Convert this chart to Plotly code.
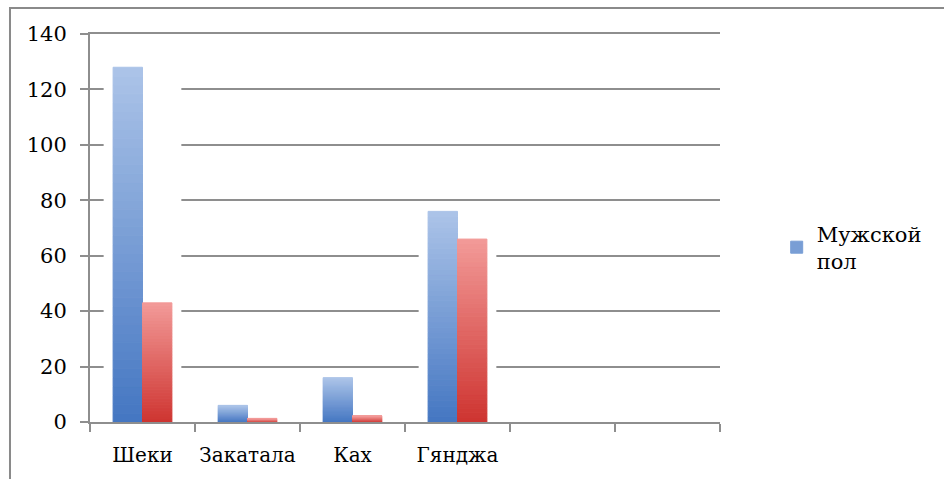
import plotly.graph_objects as go

# Category labels (the last two slots are empty in the chart)
CATEGORIES = ["Шеки", "Закатала", "Ках", "Гянджа", " ", "  "]
MALE = [128, 6, 16, 76, None, None]
FEMALE = [43, 1.3, 2.2, 66, None, None]
SERIES_NAMES = ["Мужской<br>пол", "Женский<br>пол"]
Y_TICKS = [0, 20, 40, 60, 80, 100, 120, 140]

FONT = "DejaVu Serif"
GRID = "#8e8e8e"
BAR_W = 0.28
SLICES = 40
GLOW_PAD = 2.2  # extra height of the soft glow above each bar group (axis units)

BLUE_TOP, BLUE_BOT = (172, 196, 232), (68, 118, 194)
RED_TOP, RED_BOT = (242, 154, 152), (206, 52, 48)


def mix(c1, c2, t):
    return "rgb(%d,%d,%d)" % tuple(round(a + (b - a) * t) for a, b in zip(c1, c2))


fig = go.Figure()

# white glow behind each bar group, interrupting the gridlines
glow = [max(m, f) + GLOW_PAD if m is not None else None for m, f in zip(MALE, FEMALE)]
fig.add_trace(go.Bar(
    x=CATEGORIES, y=glow, offset=-0.37, width=0.74,
    marker=dict(color="white", line=dict(width=0)),
    showlegend=False, hoverinfo="skip",
))


def add_gradient_series(values, top, bot, offset, name, legend):
    # vertical gradient: each bar is built from thin stacked slices
    for i in range(SLICES):
        t = (i + 0.5) / SLICES  # 0 at bottom, 1 at top
        col = mix(bot, top, t)
        fig.add_trace(go.Bar(
            x=CATEGORIES,
            base=[v * i / SLICES if v is not None else None for v in values],
            y=[v / SLICES if v is not None else None for v in values],
            offset=offset, width=BAR_W,
            marker=dict(color=col, line=dict(color=col, width=1)),
            name=name, legendgroup=name,
            showlegend=legend and i == SLICES // 2,
            hoverinfo="skip",
        ))


add_gradient_series(MALE, BLUE_TOP, BLUE_BOT, -BAR_W, SERIES_NAMES[0], True)
add_gradient_series(FEMALE, RED_TOP, RED_BOT, 0, SERIES_NAMES[1], False)

fig.update_layout(
    width=944, height=479,
    margin=dict(l=90, r=224, t=34, b=57, autoexpand=False),
    paper_bgcolor="white", plot_bgcolor="white",
    barmode="overlay",
    font=dict(family=FONT, size=20, color="black"),
    showlegend=True,
    legend=dict(
        x=1.09, xanchor="left", y=0.45, yanchor="middle",
        font=dict(family=FONT, size=21, color="black"),
        bgcolor="rgba(0,0,0,0)", itemwidth=30, tracegroupgap=0,
    ),
    xaxis=dict(
        type="category", categoryorder="array", categoryarray=CATEGORIES,
        range=[-0.5, len(CATEGORIES) - 0.5],
        tickson="boundaries", ticks="outside", ticklen=8, tickwidth=2,
        tickcolor=GRID, showline=True, linecolor=GRID, linewidth=2,
        mirror=True,
        showgrid=False, ticklabelstandoff=14, tickangle=0, automargin=False,
        tickfont=dict(family=FONT, size=20, color="black"),
    ),
    yaxis=dict(
        range=[0, 140], tickvals=Y_TICKS, automargin=False,
        ticks="outside", ticklen=8, tickwidth=2, tickcolor=GRID,
        showline=True, linecolor=GRID, linewidth=2,
        showgrid=True, gridcolor=GRID, gridwidth=2, zeroline=False,
        ticklabelstandoff=9,
        tickfont=dict(family=FONT, size=21, color="black"),
    ),
    shapes=[dict(
        type="rect", xref="paper", yref="paper",
        x0=-0.127, x1=1.6, y0=-0.3, y1=1.067,
        line=dict(color="#8a8a8a", width=2), fillcolor="rgba(0,0,0,0)",
        layer="below",
    )],
)

fig.write_html("out.html")
